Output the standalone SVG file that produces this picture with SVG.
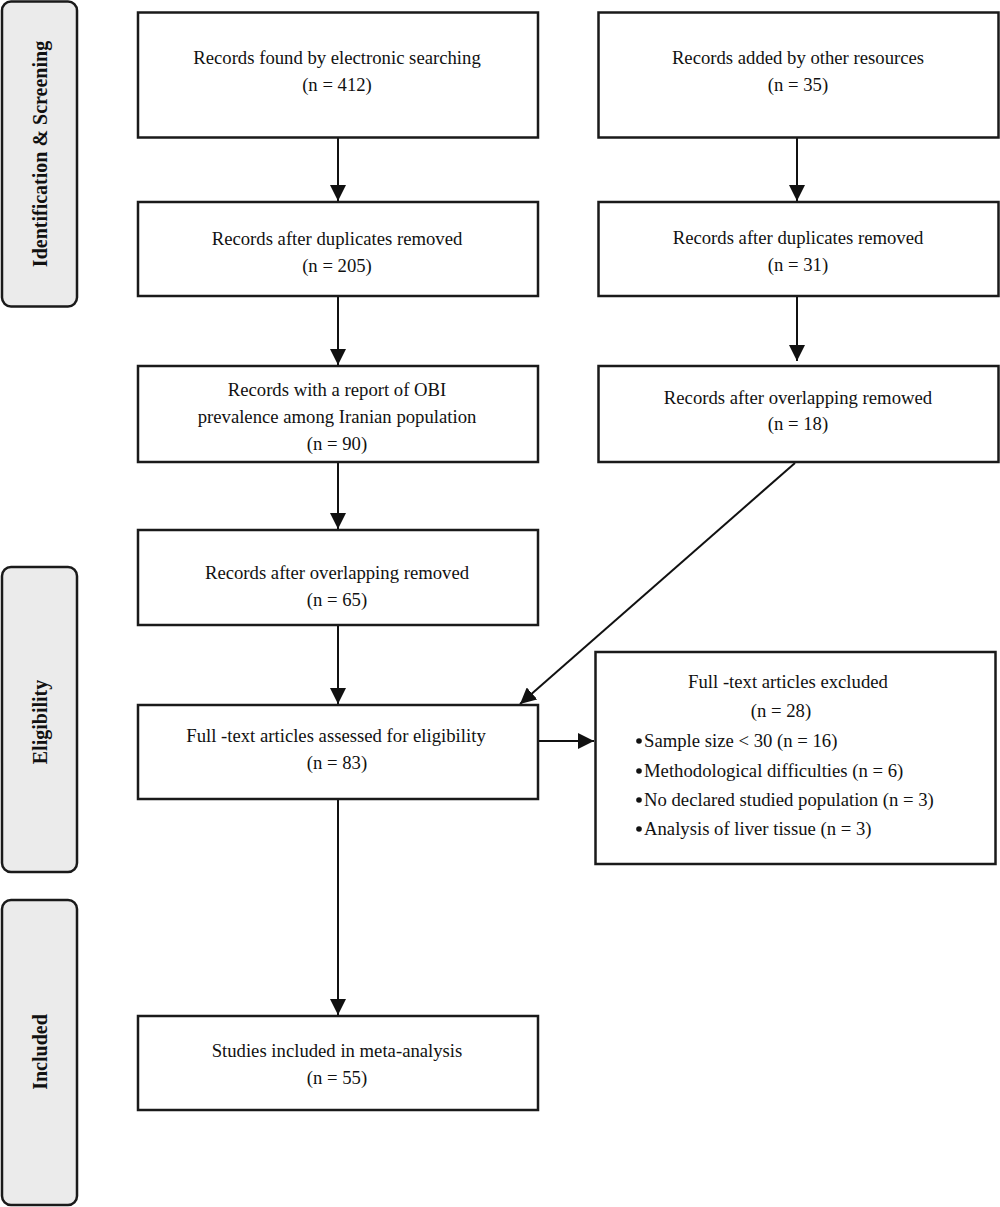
<svg xmlns="http://www.w3.org/2000/svg" width="1000" height="1207" viewBox="0 0 1000 1207">
<style>
.side{fill:#ebebeb;stroke:#1a1a1a;stroke-width:2.5}
.box{fill:#fff;stroke:#1a1a1a;stroke-width:2.5}
.t{font-family:"Liberation Serif","DejaVu Serif",serif;font-size:18.7px;fill:#111;text-anchor:middle}
.tl{font-family:"Liberation Serif","DejaVu Serif",serif;font-size:18.7px;fill:#111}
.st{font-family:"Liberation Serif","DejaVu Serif",serif;font-size:20px;font-weight:bold;fill:#111;text-anchor:middle}
.c{stroke:#111;stroke-width:2;fill:none}
</style>
<defs>
<marker id="a" viewBox="0 0 16 16" refX="16" refY="8" markerWidth="16" markerHeight="16" markerUnits="userSpaceOnUse" orient="auto">
<path d="M0,0 L16,8 L0,16 z" fill="#111"/>
</marker>
</defs>
<g id="stage-identification">
<rect class="side" x="2" y="1.5" width="75" height="305" rx="9"/>
<text class="st" transform="translate(47,154) rotate(-90)">Identification &amp; Screening</text>
</g>
<g id="stage-eligibility">
<rect class="side" x="2" y="567" width="75" height="305" rx="9"/>
<text class="st" transform="translate(47,722) rotate(-90)">Eligibility</text>
</g>
<g id="stage-included">
<rect class="side" x="2" y="900" width="75" height="305" rx="9"/>
<text class="st" transform="translate(47,1052) rotate(-90)">Included</text>
</g>
<g id="connectors">
<line class="c" x1="338" y1="138" x2="338" y2="201" marker-end="url(#a)"/>
<line class="c" x1="797" y1="138" x2="797" y2="201" marker-end="url(#a)"/>
<line class="c" x1="338" y1="297" x2="338" y2="365" marker-end="url(#a)"/>
<line class="c" x1="797" y1="297" x2="797" y2="361" marker-end="url(#a)"/>
<line class="c" x1="338" y1="463" x2="338" y2="529" marker-end="url(#a)"/>
<line class="c" x1="338" y1="626" x2="338" y2="704" marker-end="url(#a)"/>
<line class="c" x1="795" y1="463" x2="520" y2="704" marker-end="url(#a)"/>
<line class="c" x1="539" y1="741" x2="594" y2="741" marker-end="url(#a)"/>
<line class="c" x1="338" y1="800" x2="338" y2="1015" marker-end="url(#a)"/>
</g>
<g id="n-electronic">
<rect class="box" x="138" y="12.5" width="400" height="125"/>
<text class="t" x="337" y="64">Records found by electronic searching</text>
<text class="t" x="337" y="91">(n = 412)</text>
</g>
<g id="n-other">
<rect class="box" x="598.5" y="12.5" width="400" height="125"/>
<text class="t" x="798" y="64">Records added by other resources</text>
<text class="t" x="798" y="91">(n = 35)</text>
</g>
<g id="n-dup-left">
<rect class="box" x="138" y="202" width="400" height="94"/>
<text class="t" x="337" y="245">Records after duplicates removed</text>
<text class="t" x="337" y="272">(n = 205)</text>
</g>
<g id="n-dup-right">
<rect class="box" x="598.5" y="202" width="400" height="94"/>
<text class="t" x="798" y="244">Records after duplicates removed</text>
<text class="t" x="798" y="271">(n = 31)</text>
</g>
<g id="n-obi">
<rect class="box" x="138" y="366" width="400" height="96"/>
<text class="t" x="337" y="396">Records with a report of OBI</text>
<text class="t" x="337" y="423">prevalence among Iranian population</text>
<text class="t" x="337" y="450">(n = 90)</text>
</g>
<g id="n-overlap-right">
<rect class="box" x="598.5" y="366" width="400" height="96"/>
<text class="t" x="798" y="404">Records after overlapping remowed</text>
<text class="t" x="798" y="430">(n = 18)</text>
</g>
<g id="n-overlap-left">
<rect class="box" x="138" y="530" width="400" height="95"/>
<text class="t" x="337" y="579">Records after overlapping removed</text>
<text class="t" x="337" y="606">(n = 65)</text>
</g>
<g id="n-fulltext">
<rect class="box" x="138" y="705" width="400" height="94"/>
<text class="t" x="336" y="742">Full -text articles assessed for eligibility</text>
<text class="t" x="337" y="769">(n = 83)</text>
</g>
<g id="n-excluded">
<rect class="box" x="595.5" y="652" width="400" height="212"/>
<text class="t" x="788" y="688">Full -text articles excluded</text>
<text class="t" x="781" y="717">(n = 28)</text>
<circle cx="639" cy="741" r="2.8" fill="#111"/>
<text class="tl" x="644" y="747">Sample size &lt; 30 (n = 16)</text>
<circle cx="639" cy="771" r="2.8" fill="#111"/>
<text class="tl" x="644" y="777">Methodological difficulties (n = 6)</text>
<circle cx="639" cy="800" r="2.8" fill="#111"/>
<text class="tl" x="644" y="806">No declared studied population (n = 3)</text>
<circle cx="639" cy="829" r="2.8" fill="#111"/>
<text class="tl" x="644" y="835">Analysis of liver tissue (n = 3)</text>
</g>
<g id="n-included">
<rect class="box" x="138" y="1016" width="400" height="94"/>
<text class="t" x="337" y="1057">Studies included in meta-analysis</text>
<text class="t" x="337" y="1084">(n = 55)</text>
</g>
</svg>
